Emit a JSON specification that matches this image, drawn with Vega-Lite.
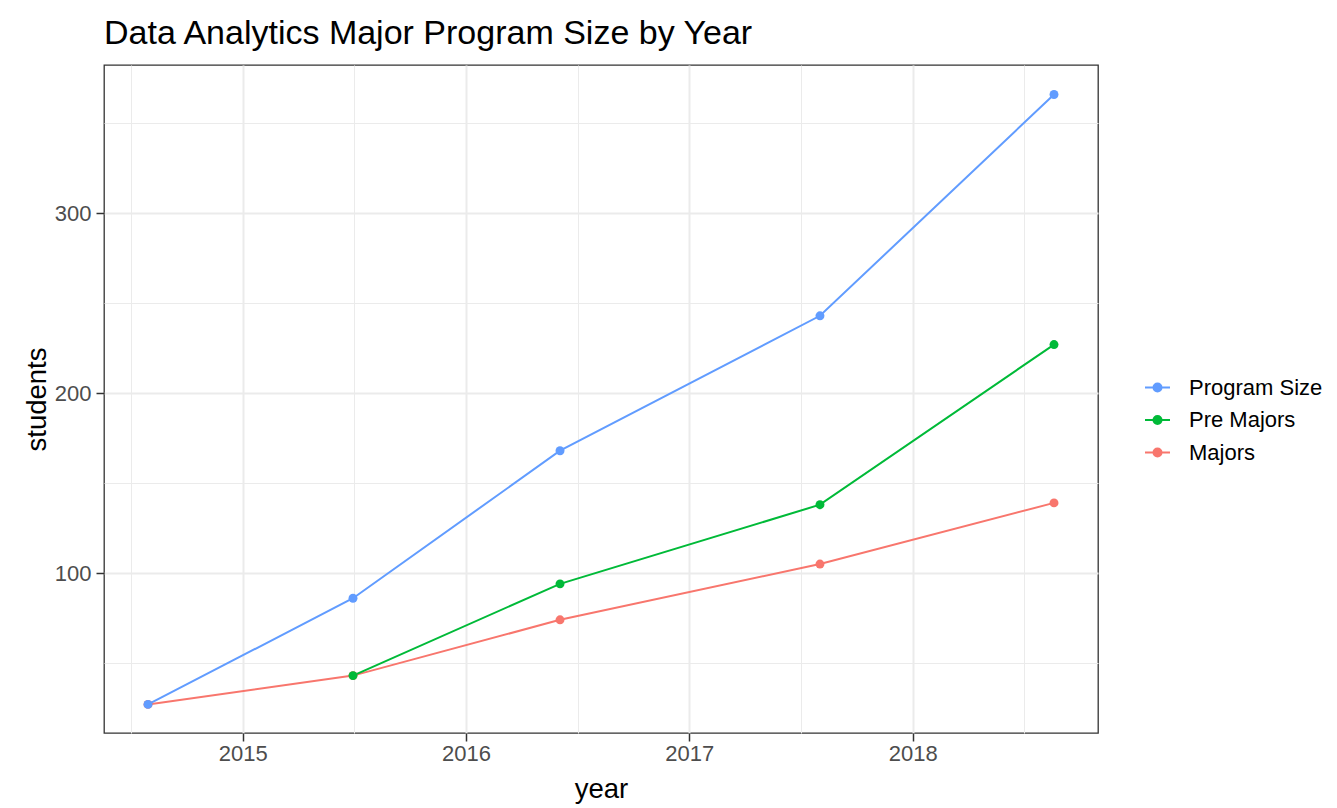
{
  "$schema": "https://vega.github.io/schema/vega-lite/v6.json",
  "width": 994,
  "height": 668,
  "autosize": {"type": "none"},
  "padding": {"left": 104, "top": 65, "right": 239, "bottom": 75},
  "background": "white",
  "title": {
    "text": "Data Analytics Major Program Size by Year",
    "anchor": "start",
    "frame": "group",
    "fontSize": 34,
    "font": "Liberation Sans",
    "fontWeight": "normal",
    "color": "#000000",
    "offset": 14
  },
  "config": {
    "view": {"stroke": "#333333", "strokeWidth": 1.3},
    "axis": {
      "domain": false,
      "gridColor": "#ebebeb",
      "tickColor": "#333333",
      "tickSize": 8,
      "tickWidth": 1.5,
      "labelFont": "Liberation Sans",
      "labelFontSize": 22,
      "labelColor": "#4d4d4d",
      "titleFont": "Liberation Sans",
      "titleFontSize": 27.5,
      "titleFontWeight": "normal",
      "titleColor": "#000000"
    }
  },
  "data": {
    "values": [
      {"year": 2014.576, "students": 27, "series": "Majors"},
      {"year": 2015.494, "students": 43, "series": "Majors"},
      {"year": 2016.421, "students": 74, "series": "Majors"},
      {"year": 2017.585, "students": 105, "series": "Majors"},
      {"year": 2018.633, "students": 139, "series": "Majors"},
      {"year": 2015.494, "students": 43, "series": "Pre Majors"},
      {"year": 2016.421, "students": 94, "series": "Pre Majors"},
      {"year": 2017.585, "students": 138, "series": "Pre Majors"},
      {"year": 2018.633, "students": 227, "series": "Pre Majors"},
      {"year": 2014.576, "students": 27, "series": "Program Size"},
      {"year": 2015.494, "students": 86, "series": "Program Size"},
      {"year": 2016.421, "students": 168, "series": "Program Size"},
      {"year": 2017.585, "students": 243, "series": "Program Size"},
      {"year": 2018.633, "students": 366, "series": "Program Size"}
    ]
  },
  "encoding": {
    "color": {
      "field": "series",
      "type": "nominal",
      "scale": {
        "domain": ["Program Size", "Pre Majors", "Majors"],
        "range": ["#619CFF", "#00BA38", "#F8766D"]
      },
      "legend": {
        "title": null,
        "orient": "none",
        "legendX": 1040,
        "legendY": 309,
        "padding": 0,
        "symbolType": "M-1,0H1M-0.32,0A0.32,0.32,0,1,0,0.32,0A0.32,0.32,0,1,0,-0.32,0Z",
        "symbolSize": 625,
        "symbolStrokeWidth": 2,
        "labelFont": "Liberation Sans",
        "labelFontSize": 22,
        "labelColor": "#000000",
        "labelOffset": 18,
        "rowPadding": 7.5,
        "encode": {
          "symbols": {
            "update": {
              "fill": {"scale": "color", "field": "value"},
              "stroke": {"scale": "color", "field": "value"},
              "opacity": {"value": 1},
              "fillOpacity": {"value": 1}
            }
          }
        }
      }
    }
  },
  "layer": [
    {
      "mark": {"type": "line", "strokeWidth": 2},
      "encoding": {
        "x": {
          "field": "year",
          "type": "quantitative",
          "scale": {"domain": [2014.379, 2018.83], "nice": false, "zero": false},
          "axis": {
            "orient": "top",
            "title": null,
            "values": [2014.5, 2015.5, 2016.5, 2017.5, 2018.5],
            "tickCount": 100,
            "labels": false,
            "ticks": false,
            "domain": false,
            "grid": true,
            "gridWidth": 1
          }
        },
        "y": {
          "field": "students",
          "type": "quantitative",
          "scale": {"domain": [11.1, 382.4], "nice": false, "zero": false},
          "axis": {
            "orient": "right",
            "title": null,
            "values": [50, 150, 250, 350],
            "tickCount": 100,
            "labels": false,
            "ticks": false,
            "domain": false,
            "grid": true,
            "gridWidth": 1
          }
        }
      }
    },
    {
      "mark": {"type": "point", "filled": true, "size": 80, "opacity": 1},
      "encoding": {
        "x": {
          "field": "year",
          "type": "quantitative",
          "axis": {
            "orient": "bottom",
            "title": "year",
            "values": [2015, 2016, 2017, 2018],
            "tickCount": 100,
            "format": "d",
            "labelOverlap": false,
            "labelPadding": 2,
            "titlePadding": 11,
            "grid": true,
            "gridWidth": 2
          }
        },
        "y": {
          "field": "students",
          "type": "quantitative",
          "axis": {
            "orient": "left",
            "title": "students",
            "values": [100, 200, 300],
            "tickCount": 100,
            "labelOverlap": false,
            "labelPadding": 5,
            "titlePadding": 3,
            "grid": true,
            "gridWidth": 2
          }
        }
      }
    }
  ],
  "resolve": {"axis": {"x": "independent", "y": "independent"}}
}
